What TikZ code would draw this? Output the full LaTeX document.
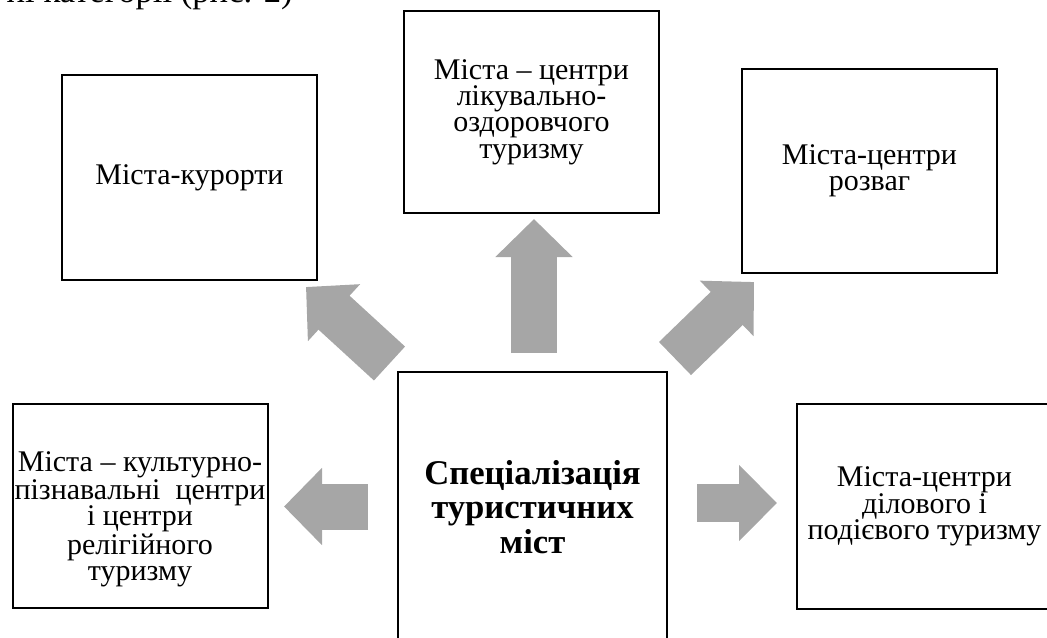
\documentclass[tikz,border=0pt]{standalone}
\usepackage{fontspec}
\setmainfont{Liberation Serif}
\usetikzlibrary{arrows.meta}

\definecolor{arrowgray}{RGB}{166,166,166}

\tikzset{
  blocktext/.style={align=center, inner sep=2pt,
    font=\fontsize{22.5}{19.75}\selectfont},
  block/.style={blocktext, draw, line width=1.5pt, minimum width=191.25pt},
  mainblock/.style={block, minimum width=201.75pt, minimum height=202.5pt,
    font=\fontsize{26}{26}\selectfont\bfseries},
  bigarrow/.style={draw=arrowgray, line width=34.5pt,
    -{Triangle[width=56.25pt,length=28.5pt]}},
  thinarrow/.style={bigarrow, line width=28.5pt,
    -{Triangle[width=55.5pt,length=28.5pt]}}
}

\begin{document}
\begin{tikzpicture}[x=0.75pt, y=-0.75pt]
    \clip (0,0) rectangle (1047,637);

    % leftover line of the page above the figure
    \node[anchor=base east, inner sep=0pt, font=\fontsize{26}{26}\selectfont,
      name=caption] at (293,2) {ні категорії (рис. 2)};

    % We start by placing the blocks
    \node[mainblock, name=spec] at (532.5,507) {Спеціалізація\\туристичних\\міст};
    \node[block, minimum height=153.75pt, name=resort] at (189.5,177.5) {Міста-курорти};
    \node[block, minimum height=151.5pt, name=health] at (531.5,112)
      {Міста – центри\\лікувально-\\оздоровчого\\туризму};
    \node[block, minimum height=153pt, name=leisure] at (869.5,171) {Міста-центри\\розваг};
    \node[block, minimum height=153pt, name=culture] at (140,506) {};
    \node[blocktext, name=culturetext] at ([yshift=-10pt]culture.center)
      {Міста – культурно-\\пізнавальні\ \ центри\\і центри\\релігійного\\туризму};
    \node[block, minimum height=153.75pt, name=business] at (924.5,506.5)
      {Міста-центри\\ділового і\\подієвого туризму};

    % arrow ends
    \coordinate (up0) at (534,353);
    \coordinate (up1) at (534,219);
    \coordinate (nw0) at (389.5,363.5);
    \coordinate (nw1) at (306,287);
    \coordinate (ne0) at (675,358.5);
    \coordinate (ne1) at (754,282);
    \coordinate (w0) at (368,506.5);
    \coordinate (w1) at (284,506.5);
    \coordinate (e0) at (697,503);
    \coordinate (e1) at (777,503);

    \draw[bigarrow] (up0) to (up1);
    \draw[bigarrow] (nw0) to (nw1);
    \draw[bigarrow] (ne0) to (ne1);
    \draw[bigarrow] (w0)  to (w1);
    \draw[thinarrow] (e0) to (e1);
  \end{tikzpicture}
\end{document}
